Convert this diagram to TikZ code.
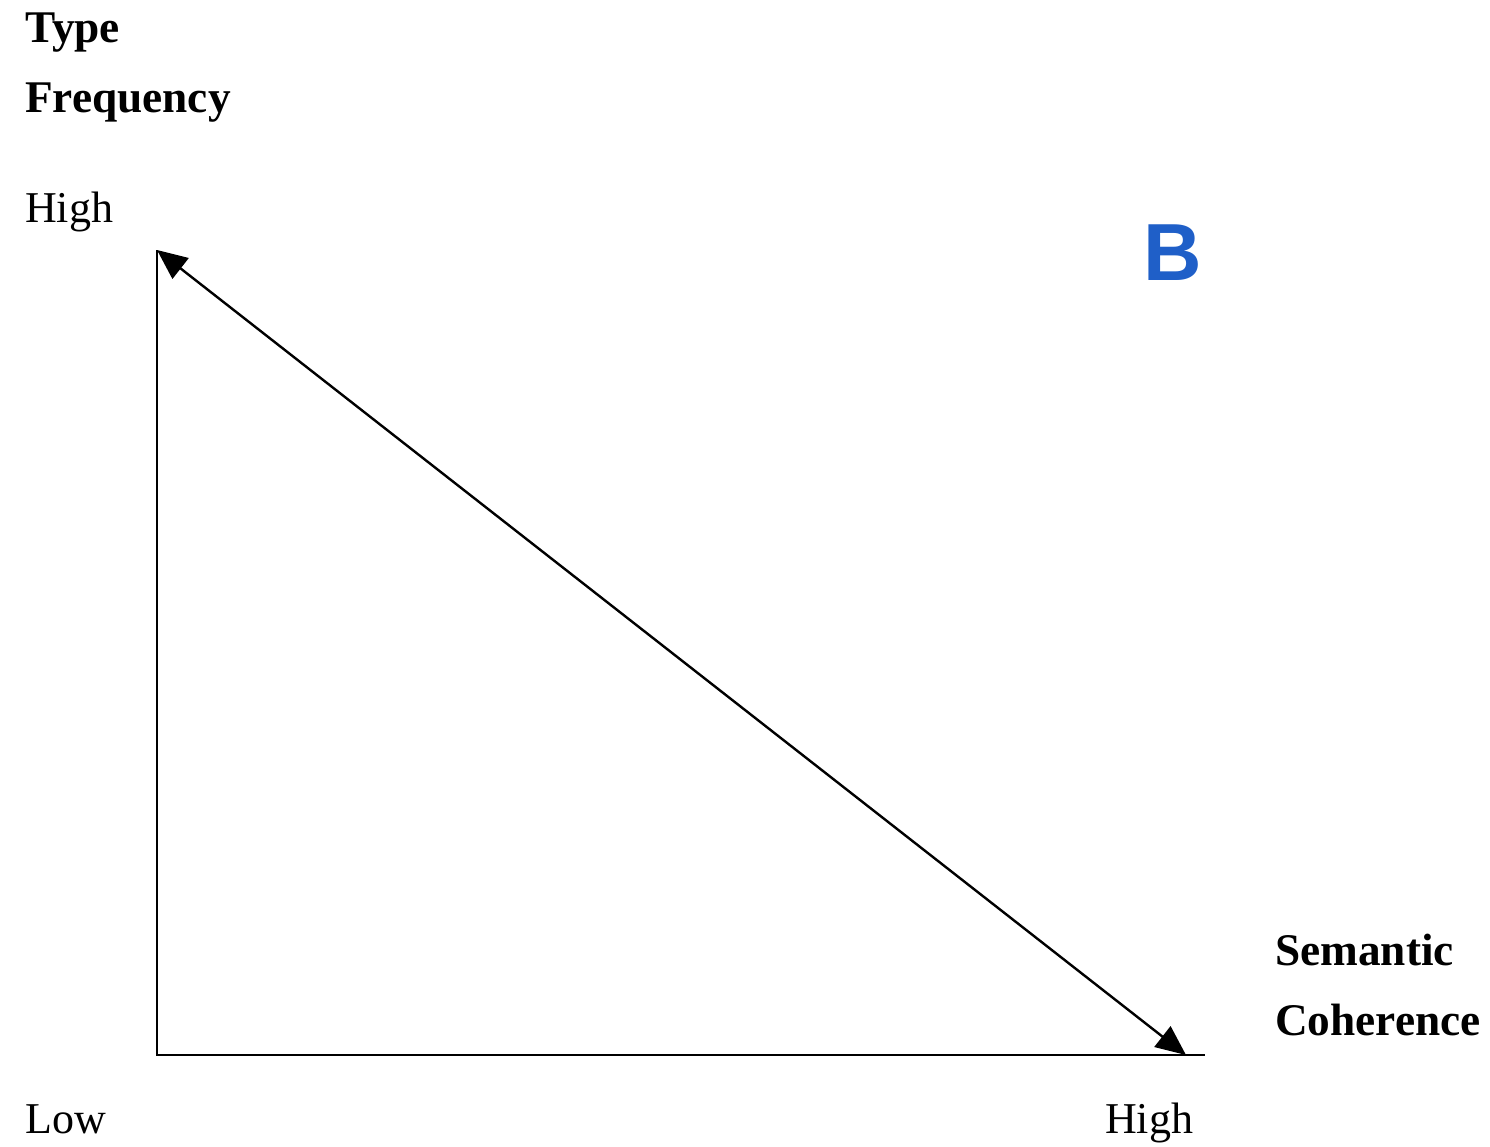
\documentclass[tikz,border=0pt]{standalone}
\usepackage{fontspec}
\setmainfont{Liberation Serif}
\newfontfamily\bfont{Liberation Sans}
\usetikzlibrary{arrows.meta}
\definecolor{bblue}{HTML}{1F5FC8}
\tikzset{
  lbl/.style={anchor=base west, inner sep=0pt, font=\fontsize{44}{50}\selectfont},
  blbl/.style={lbl, font=\fontsize{45.3}{50}\selectfont\bfseries},
  axis/.style={line width=2.4pt},
  diag/.style={line width=2.4pt, {Triangle[length=30pt,width=26pt]}-{Triangle[length=30pt,width=26pt]}}
}
\begin{document}
\begin{tikzpicture}[x=1pt,y=-1pt]
\useasboundingbox (0,0) rectangle (1490,1146);
\node[blbl] (type) at (25,42) {Type};
\node[blbl] (freq) at (25,112) {Frequency};
\node[lbl] (yhigh) at (25,222) {High};
\node[blbl] (sem) at (1275,965) {Semantic};
\node[blbl] (coh) at (1275,1035) {Coherence};
\node[lbl] (low) at (25,1133) {Low};
\node[lbl] (xhigh) at (1105,1133) {High};
\node[anchor=base west, inner sep=0pt, text=bblue, font=\fontsize{81}{90}\selectfont\bfont\bfseries] (b) at (1143,280) {B};
\coordinate (top) at (157,250);
\coordinate (origin) at (157,1055);
\coordinate (right) at (1205,1055);
\coordinate (tip) at (1186,1055);
\draw[axis] (top) -- (origin) -- (right);
\draw[diag] (top) -- (tip);
\end{tikzpicture}
\end{document}
